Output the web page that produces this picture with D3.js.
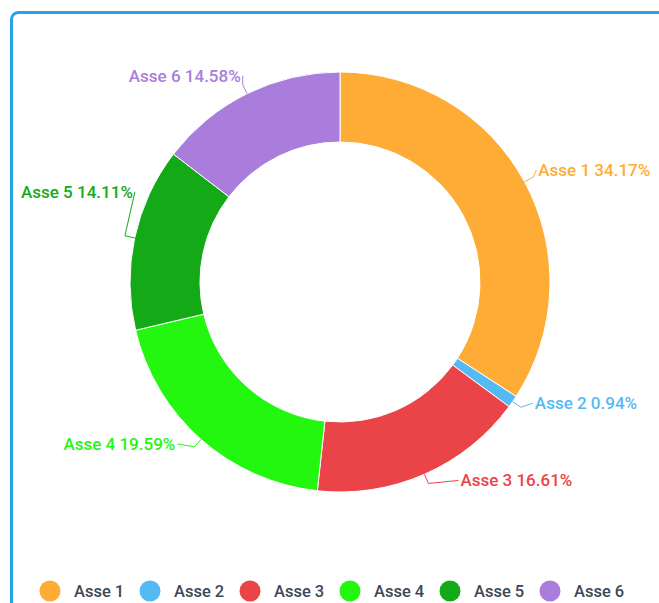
<!DOCTYPE html>
<html><head><meta charset="utf-8">
<script src="https://cdn.jsdelivr.net/npm/d3@7"></script>
<style>html,body{margin:0;padding:0;background:#fff;}svg{display:block;}</style>
</head><body>
<svg id="c" width="659" height="603"></svg>
<script>
const categories = ["Asse 1","Asse 2","Asse 3","Asse 4","Asse 5","Asse 6"];
const values = [34.17, 0.94, 16.61, 19.59, 14.11, 14.58];
const colors = ["#FFAC36","#55BAF4","#EA4449","#23F70F","#14AA17","#AA7CDB"];
// label layout tweaks (relative offsets from computed leader end)
const labelShift = [[-3,-7],[6,-4],[24,-3],[-11,-3],[16,-44],[6,-9]];

const W = 659, H = 603;
const svg = d3.select("#c");
svg.append("rect").attr("x",11.5).attr("y",12.5).attr("width",W+20).attr("height",H+20)
  .attr("rx",7).attr("fill","#fff").attr("stroke","#28A2E8").attr("stroke-width",3);

const cx = 340, cy = 282, R = 210, r0 = 140;
const g = svg.append("g").attr("transform",`translate(${cx},${cy})`);
const pie = d3.pie().sort(null).value(d=>d.v);
const data = pie(categories.map((c,i)=>({c, v:values[i], col:colors[i], i})));
const arc = d3.arc().innerRadius(r0).outerRadius(R);
g.selectAll("path.s").data(data).join("path").attr("class","s")
  .attr("d",arc).attr("fill",d=>d.data.col).attr("stroke","#fff").attr("stroke-width",1);

const fmt = d3.format(".2f");
data.forEach((d,i)=>{
  const a = (d.startAngle+d.endAngle)/2;
  const pt = rr => [rr*Math.sin(a), -rr*Math.cos(a)];
  const p0 = pt(R), p1 = pt(R+10);
  const side = Math.sin(a) >= 0 ? 1 : -1;
  const L = [p1[0] + side*6 + labelShift[i][0], p1[1] + labelShift[i][1]];
  g.append("polyline").attr("points",[p0,p1,L].map(p=>p.join(",")).join(" "))
    .attr("fill","none").attr("stroke",d.data.col).attr("stroke-width",1);
  g.append("text").attr("x",L[0]+side*2).attr("y",L[1])
    .attr("dy","0.35em").attr("text-anchor",side>0?"start":"end")
    .attr("font-family","Roboto, sans-serif").attr("font-size",17).attr("font-weight",500)
    .attr("fill",d.data.col).text(`${d.data.c} ${fmt(d.data.v)}%`);
});

const lx = d3.scalePoint().domain(categories).range([50,550]);
const lg = svg.append("g");
categories.forEach((c,i)=>{
  lg.append("circle").attr("cx",lx(c)).attr("cy",591).attr("r",10.5).attr("fill",colors[i]);
  lg.append("text").attr("x",lx(c)+24).attr("y",591).attr("dy","0.35em")
    .attr("font-family","Roboto, sans-serif").attr("font-size",16.5).attr("font-weight",500)
    .attr("fill","#3d4757").text(c);
});
</script>
</body></html>
